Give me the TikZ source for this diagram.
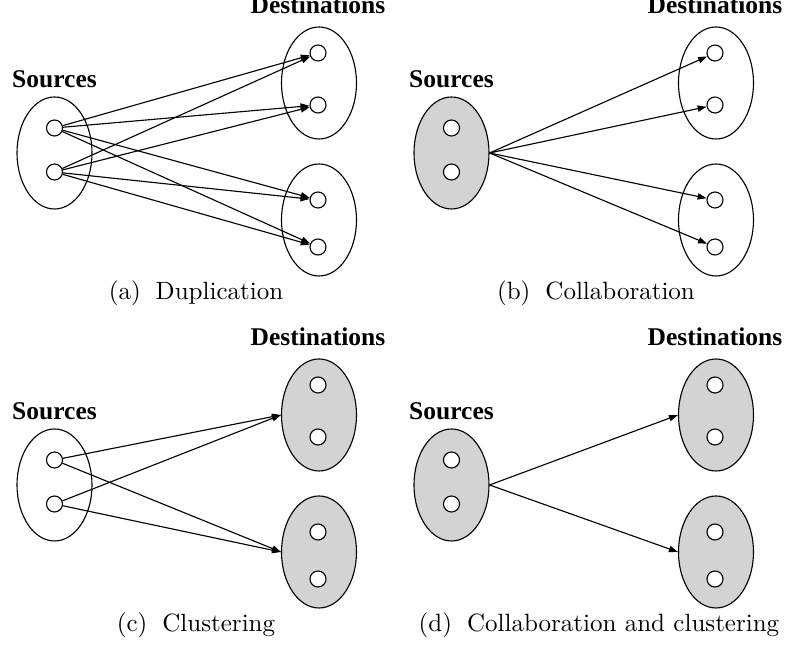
\documentclass[tikz,border=0pt]{standalone}
\usepackage{fontspec}
\usetikzlibrary{shapes.geometric,arrows.meta}
\newfontfamily\grplabelfont{Liberation Serif}[UprightFont=* Bold]

\tikzset{
  group/.style={ellipse, draw, line width=0.45pt, minimum width=30pt, minimum height=44.8pt, inner sep=0pt},
  shaded/.style={fill={rgb,255:red,211;green,211;blue,211}},
  member/.style={circle, draw, fill=white, line width=0.45pt, minimum size=6.4pt, inner sep=0pt},
  grplabel/.style={font=\grplabelfont\fontsize{10.2}{12}\selectfont, inner sep=0pt, anchor=base},
  subcap/.style={font=\fontsize{10}{12}\selectfont, inner sep=0pt, anchor=base},
  flow/.style={line width=0.45pt, -{Triangle[length=3.6pt,width=2.5pt]}},
}

% One panel: #1 name prefix, #2 extra style of the source group, #3 extra style of the destination groups
\newcommand{\grouppanel}[3]{%
  \node[group,#2] (#1S) at (54.5,153) {};
  \node[member] (#1s1) at (54.5,128) {};
  \node[member] (#1s2) at (54.5,172) {};
  \node[group,#3] (#1T) at (319,83) {};
  \node[member] (#1t1) at (318,53) {};
  \node[member] (#1t2) at (318,105) {};
  \node[group,#3] (#1B) at (319,220) {};
  \node[member] (#1b1) at (318,200) {};
  \node[member] (#1b2) at (318,247) {};
  \node[grplabel] (#1srclbl) at (54.5,88) {Sources};
  \node[grplabel] (#1dstlbl) at (318,14) {Destinations};
}

\begin{document}
\begin{tikzpicture}[x=0.4pt,y=-0.4pt]
\useasboundingbox (0,0) rectangle (789,657);

% (a) every source member sends to every destination member
\begin{scope}
  \grouppanel{a}{}{}
  \foreach \s in {as1,as2}
    \foreach \t in {at1,at2,ab1,ab2}
      \draw[flow] (\s) -- (\t);
  \node[subcap] (acap) at (196,300) {(a)\hspace{0.6em}Duplication};
\end{scope}

% (b) the source group sends as a whole to each destination member
\begin{scope}[shift={(397,0)}]
  \grouppanel{b}{shaded}{}
  \foreach \t in {bt1,bt2,bb1,bb2}
    \draw[flow] (bS.east) -- (\t);
  \node[subcap] (bcap) at (199,300) {(b)\hspace{0.6em}Collaboration};
\end{scope}

% (c) each source member sends to each destination group
\begin{scope}[shift={(0,332)}]
  \grouppanel{c}{}{shaded}
  \foreach \s in {cs1,cs2}
    \foreach \t in {cT,cB}
      \draw[flow] (\s) -- (\t.west);
  \node[subcap] (ccap) at (196,300) {(c)\hspace{0.6em}Clustering};
\end{scope}

% (d) group to group
\begin{scope}[shift={(397,332)}]
  \grouppanel{d}{shaded}{shaded}
  \foreach \t in {dT,dB}
    \draw[flow] (dS.east) -- (\t.west);
  \node[subcap] (dcap) at (202,300) {(d)\hspace{0.6em}Collaboration and clustering};
\end{scope}
\end{tikzpicture}
\end{document}
